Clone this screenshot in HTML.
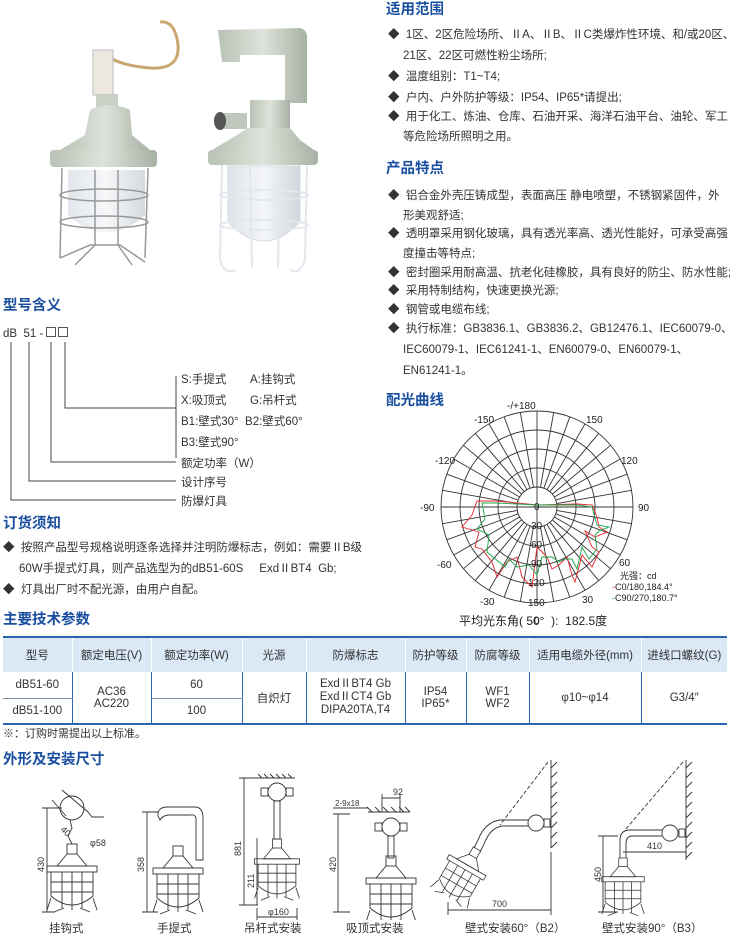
<!DOCTYPE html>
<html><head><meta charset="utf-8"><style>
body{margin:0;background:#fff;width:730px;height:939px;overflow:hidden;position:relative;font-family:"Liberation Sans","Noto Sans CJK SC",sans-serif;color:#333;}
.a{position:absolute;white-space:nowrap;font-size:11.5px;line-height:14px;}
.h{position:absolute;white-space:nowrap;font-size:14.5px;font-weight:bold;color:#1a4fa0;}
.d{font-size:12px;color:#222;}
table{position:absolute;left:3px;top:636px;width:724px;border-collapse:collapse;font-size:11.5px;text-align:center;}
td{padding:0;}
</style></head><body>

<svg style="position:absolute;left:0;top:0" width="370" height="290">
<defs>
<linearGradient id="g1" x1="0" x2="1"><stop offset="0" stop-color="#b9c2b6"/><stop offset=".5" stop-color="#dde3da"/><stop offset="1" stop-color="#a8b1a5"/></linearGradient>
<linearGradient id="g2" x1="0" x2="1"><stop offset="0" stop-color="#dfe4ea"/><stop offset=".5" stop-color="#f4f6f8"/><stop offset="1" stop-color="#d0d6dc"/></linearGradient>
</defs>
<path d="M160 22 Q175 20 178 45 Q180 70 150 68 Q125 66 110 58" fill="none" stroke="#c8a770" stroke-width="3"/>
<rect x="93" y="50" width="20" height="45" fill="#ece8e0" stroke="#bbb"/>
<rect x="96" y="94" width="22" height="14" fill="#c9d0c6"/>
<path d="M90 110 Q110 100 130 110 L132 135 L150 150 L60 150 L85 135 Z" fill="url(#g1)"/>
<rect x="50" y="150" width="107" height="17" rx="4" fill="url(#g1)"/>
<path d="M68 170 L145 170 L145 215 Q106 250 68 215 Z" fill="url(#g2)" opacity=".9"/>
<g stroke="#999" stroke-width="1.5" fill="none">
<line x1="62" y1="168" x2="60" y2="258"/><line x1="148" y1="168" x2="145" y2="258"/><line x1="95" y1="170" x2="95" y2="245"/><line x1="118" y1="170" x2="118" y2="245"/>
<ellipse cx="104" cy="195" rx="44" ry="6"/><ellipse cx="104" cy="222" rx="44" ry="6"/>
<path d="M60 258 L90 245 L120 245 L145 262"/><path d="M75 265 L95 245 M132 265 L118 245"/>
</g>
<path d="M218 30 L300 28 Q308 30 307 40 L307 103 L285 103 L285 55 L240 55 L240 62 L222 62 Z" fill="url(#g1)"/>
<rect x="250" y="100" width="40" height="30" fill="url(#g1)"/>
<rect x="217" y="113" width="30" height="16" fill="#c0c7bd"/>
<ellipse cx="220" cy="121" rx="6" ry="9" fill="#555"/>
<path d="M248 128 L290 128 L300 140 L314 150 L212 150 L232 138 Z" fill="url(#g1)"/>
<rect x="208" y="150" width="110" height="15" rx="4" fill="url(#g1)"/>
<path d="M228 166 L300 166 L300 222 Q264 260 228 222 Z" fill="url(#g2)" stroke="#d6dbe0"/>
<g stroke="#e4e7ee" stroke-width="2" fill="none">
<line x1="222" y1="165" x2="220" y2="260"/><line x1="307" y1="165" x2="305" y2="260"/><line x1="250" y1="168" x2="252" y2="268"/><line x1="280" y1="168" x2="278" y2="268"/>
<ellipse cx="264" cy="195" rx="44" ry="5"/><ellipse cx="264" cy="225" rx="44" ry="5"/>
<path d="M220 260 Q224 275 236 270 M305 260 Q300 275 290 270"/>
</g>
</svg>

<div class="h" style="left:386px;top:-2px">适用范围</div>
<div class="a" style="left:388px;top:28px">◆&nbsp; 1区、2区危险场所、ⅡA、ⅡB、ⅡC类爆炸性环境、和/或20区、</div>
<div class="a" style="left:403px;top:49px">21区、22区可燃性粉尘场所;</div>
<div class="a" style="left:388px;top:70px">◆&nbsp; 温度组别：T1~T4;</div>
<div class="a" style="left:388px;top:91px">◆&nbsp; 户内、户外防护等级：IP54、IP65*请提出;</div>
<div class="a" style="left:388px;top:110px">◆&nbsp; 用于化工、炼油、仓库、石油开采、海洋石油平台、油轮、军工</div>
<div class="a" style="left:403px;top:130px">等危险场所照明之用。</div>
<div class="h" style="left:386px;top:157px">产品特点</div>
<div class="a" style="left:388px;top:189px">◆&nbsp; 铝合金外壳压铸成型，表面高压 静电喷塑，不锈钢紧固件，外</div>
<div class="a" style="left:403px;top:209px">形美观舒适;</div>
<div class="a" style="left:388px;top:227px">◆&nbsp; 透明罩采用钢化玻璃，具有透光率高、透光性能好，可承受高强</div>
<div class="a" style="left:403px;top:247px">度撞击等特点;</div>
<div class="a" style="left:388px;top:266px">◆&nbsp; 密封圈采用耐高温、抗老化硅橡胶，具有良好的防尘、防水性能;</div>
<div class="a" style="left:388px;top:284px">◆&nbsp; 采用特制结构，快速更换光源;</div>
<div class="a" style="left:388px;top:303px">◆&nbsp; 钢管或电缆布线;</div>
<div class="a" style="left:388px;top:322px">◆&nbsp; 执行标准：GB3836.1、GB3836.2、GB12476.1、IEC60079-0、</div>
<div class="a" style="left:403px;top:343px">IEC60079-1、IEC61241-1、EN60079-0、EN60079-1、</div>
<div class="a" style="left:403px;top:364px">EN61241-1。</div>
<div class="h" style="left:386px;top:389px">配光曲线</div>

<svg style="position:absolute;left:420px;top:395px" width="310" height="240" font-family="Liberation Sans, sans-serif" font-size="10" fill="#222">
<g transform="translate(117,112)" stroke="#333" stroke-width="0.9" fill="none">
<circle r="96"/><circle r="77"/><circle r="58"/><circle r="39"/><circle r="20"/>
<line x1="-96" y1="0" x2="96" y2="0"/><line x1="0" y1="-96" x2="0" y2="96"/>
<g id="rl">
<line x1="20" y1="0" x2="96" y2="0" transform="rotate(10)"/><line x1="20" y1="0" x2="96" y2="0" transform="rotate(20)"/><line x1="20" y1="0" x2="96" y2="0" transform="rotate(30)"/><line x1="20" y1="0" x2="96" y2="0" transform="rotate(40)"/><line x1="20" y1="0" x2="96" y2="0" transform="rotate(50)"/><line x1="20" y1="0" x2="96" y2="0" transform="rotate(60)"/><line x1="20" y1="0" x2="96" y2="0" transform="rotate(70)"/><line x1="20" y1="0" x2="96" y2="0" transform="rotate(80)"/>
</g>
<use href="#rl" transform="rotate(90)"/><use href="#rl" transform="rotate(180)"/><use href="#rl" transform="rotate(270)"/>
<path stroke="#e8242a" d="M-60 -6 L-40 -6 L0 -2 L40 -3 L55 -2 L60 10 L62 20 L70 25 L58 30 L48 24 L55 40 L62 45 L55 60 L45 48 L38 75 L35 68 L30 50 L22 58 L15 62 L10 50 L0 40 L-5 80 L-15 70 L-20 50 L-30 55 L-40 70 L-45 55 L-55 42 L-62 40 L-58 25 L-75 20 L-65 8 Z"/>
<path stroke="#1aa84a" d="M-55 -4 L-40 -4 L0 -2 L40 -2 L55 0 L60 18 L72 20 L62 24 L58 28 L60 42 L52 52 L45 40 L40 62 L35 52 L28 52 L22 55 L15 50 L5 50 L0 68 L-8 58 L-20 60 L-28 52 L-32 60 L-38 55 L-50 45 L-48 28 L-60 22 L-52 12 Z"/>
</g>
<text x="87" y="14">-/+180</text>
<text x="54" y="28">-150</text><text x="166" y="28">150</text>
<text x="15" y="69">-120</text><text x="201" y="69">120</text>
<text x="0" y="116">-90</text><text x="218" y="116">90</text>
<text x="17" y="173">-60</text><text x="199" y="171">60</text>
<text x="60" y="210">-30</text><text x="162" y="208">30</text>
<text x="114" y="115">0</text><text x="111" y="134">30</text><text x="111" y="153">60</text><text x="111" y="172">90</text><text x="108" y="191">120</text><text x="108" y="211">150</text><text x="114" y="229">0</text>
<text x="200" y="184" font-size="9">光强：cd</text>
<text x="192" y="195" font-size="9"><tspan fill="#e8242a">-</tspan>C0/180,184.4°</text>
<text x="192" y="206" font-size="9"><tspan fill="#1aa84a">-</tspan>C90/270,180.7°</text>
</svg>
<div class="a d" style="left:459px;top:614px">平均光东角( 50°&nbsp; ):&nbsp; 182.5度</div>

<div class="h" style="left:3px;top:294px">型号含义</div>
<div class="a" style="left:3px;top:327px">dB&nbsp; 51 -<span style="display:inline-block;width:8px;height:8px;border:1px solid #555;margin:0 2px 0 3px"></span><span style="display:inline-block;width:8px;height:8px;border:1px solid #555"></span></div>
<svg style="position:absolute;left:0;top:340px" width="200" height="170" stroke="#444" stroke-width="1" fill="none">
<path d="M11 2 V160 H176"/><path d="M29 2 V141 H176"/><path d="M51 2 V122 H176"/><path d="M65 2 V68 H176"/>
<path d="M176 36 V118"/>
</svg>
<div class="a" style="left:181px;top:373px">S:手提式</div><div class="a" style="left:250px;top:373px">A:挂钩式</div>
<div class="a" style="left:181px;top:394px">X:吸顶式</div><div class="a" style="left:250px;top:394px">G:吊杆式</div>
<div class="a" style="left:181px;top:415px">B1:壁式30°&nbsp; B2:壁式60°</div>
<div class="a" style="left:181px;top:436px">B3:壁式90°</div>
<div class="a" style="left:181px;top:457px">额定功率（W）</div>
<div class="a" style="left:181px;top:476px">设计序号</div>
<div class="a" style="left:181px;top:495px">防爆灯具</div>
<div class="h" style="left:3px;top:512px">订货须知</div>
<div class="a" style="left:3px;top:541px">◆&nbsp; 按照产品型号规格说明逐条选择并注明防爆标志，例如：需要ⅡB级</div>
<div class="a" style="left:19px;top:562px">60W手提式灯具，则产品选型为的dB51-60S&nbsp;&nbsp;&nbsp;&nbsp; ExdⅡBT4&nbsp; Gb;</div>
<div class="a" style="left:3px;top:583px">◆&nbsp; 灯具出厂时不配光源，由用户自配。</div>

<div class="h" style="left:3px;top:608px">主要技术参数</div>
<table>
<colgroup><col style="width:69px"><col style="width:79px"><col style="width:91px"><col style="width:64px"><col style="width:99px"><col style="width:61px"><col style="width:63px"><col style="width:112px"><col></colgroup>
<tr style="height:35px;background:#dbe8f6;border-top:2px solid #2c64b0">
<td style="border-right:1px solid #fff">型号</td><td style="border-right:1px solid #fff">额定电压(V)</td><td style="border-right:1px solid #fff">额定功率(W)</td><td style="border-right:1px solid #fff">光源</td><td style="border-right:1px solid #fff">防爆标志</td><td style="border-right:1px solid #fff">防护等级</td><td style="border-right:1px solid #fff">防腐等级</td><td style="border-right:1px solid #fff">适用电缆外径(mm)</td><td>进线口螺纹(G)</td></tr>
<tr style="height:26px"><td style="border-right:1px solid #2c64b0;border-bottom:1px solid #7d8fa8">dB51-60</td><td rowspan="2" style="border-right:1px solid #2c64b0">AC36<br>AC220</td><td style="border-right:1px solid #2c64b0;border-bottom:1px solid #7d8fa8">60</td><td rowspan="2" style="border-right:1px solid #2c64b0">自炽灯</td><td rowspan="2" style="border-right:1px solid #2c64b0;line-height:13px">ExdⅡBT4 Gb<br>ExdⅡCT4 Gb<br>DIPA20TA,T4</td><td rowspan="2" style="border-right:1px solid #2c64b0">IP54<br>IP65*</td><td rowspan="2" style="border-right:1px solid #2c64b0">WF1<br>WF2</td><td rowspan="2" style="border-right:1px solid #2c64b0">φ10~φ14</td><td rowspan="2">G3/4″</td></tr>
<tr style="height:26px;border-bottom:2px solid #2c64b0"><td style="border-right:1px solid #2c64b0">dB51-100</td><td style="border-right:1px solid #2c64b0">100</td></tr>
</table>
<div class="a" style="left:3px;top:727px;font-size:11px">※：订购时需提出以上标准。</div>

<div class="h" style="left:3px;top:748px">外形及安装尺寸</div>
<svg style="position:absolute;left:0;top:760px" width="730" height="160" stroke="#333" stroke-width="0.9" fill="none" font-family="Liberation Sans, sans-serif" font-size="9">
<defs>
<g id="lamp">
<rect x="-5" y="0" width="10" height="10"/>
<path d="M-5 10 L-15 22 L15 22 L5 10"/>
<rect x="-25" y="22" width="50" height="6"/>
<path d="M-21 28 V52 Q0 70 21 52 V28"/>
<path d="M-10 28 V64 M0 28 V66 M10 28 V64 M-21 38 H21 M-21 48 H21"/>
<path d="M-21 54 L-25 66 M21 54 L25 66 M-8 64 L-18 68 M8 64 L18 68"/>
</g>
</defs>
<!-- 1 hook -->
<circle cx="72" cy="48" r="12"/><path d="M70 60 L72 68 L68 76 L72 84"/>
<use href="#lamp" x="72" y="84"/>
<path d="M47 48 V152 M42 48 H62 M42 152 H55"/><path d="M52 40 L66 56 M62 30 L88 52 L92 57 H104"/>
<g stroke="none" fill="#333"><text x="44" y="112" transform="rotate(-90 44 112)">430</text><text x="60" y="70" transform="rotate(45 60 70)">40</text><text x="90" y="86">φ58</text></g>
<!-- 2 handheld -->
<path d="M158 56 Q157 48 166 47 H196 Q203 48 203 58 V100 H196 V58 Q195 54 190 55 H168 Q162 56 160 60 Z"/>
<use href="#lamp" x="178" y="86"/>
<path d="M147 52 V152 M142 52 H158 M142 152 H158"/>
<g stroke="none" fill="#333"><text x="144" y="112" transform="rotate(-90 144 112)">358</text></g>
<!-- 3 pendant -->
<path d="M258 18 H295"/><path d="M262 18 l-4 -4 M268 18 l-4 -4 M274 18 l-4 -4 M280 18 l-4 -4 M286 18 l-4 -4 M292 18 l-4 -4"/>
<circle cx="277" cy="32" r="9"/><rect x="261" y="28" width="7" height="8"/><rect x="286" y="28" width="7" height="8"/>
<rect x="274" y="41" width="6" height="38"/>
<use href="#lamp" transform="translate(277,79) scale(0.9)"/>
<path d="M244 18 V145 M239 18 H258 M239 145 H258 M257 78 V145 M257 148 V160 M297 148 V160 M257 157 H297"/>
<g stroke="none" fill="#333"><text x="241" y="96" transform="rotate(-90 241 96)">881</text><text x="254" y="128" transform="rotate(-90 254 128)">211</text><text x="268" y="155">φ160</text></g>
<!-- 4 ceiling -->
<path d="M368 52 H410"/><path d="M372 52 l-5 -5 M380 52 l-5 -5 M388 52 l-5 -5 M396 52 l-5 -5 M404 52 l-5 -5 M410 52 l-5 -5"/>
<path d="M382 38 H400 M382 34 V52 M400 34 V52 M333 48 H368"/>
<circle cx="391" cy="67" r="9"/><rect x="375" y="63" width="7" height="8"/><rect x="400" y="63" width="7" height="8"/>
<rect x="388" y="76" width="6" height="22"/>
<use href="#lamp" x="391" y="96"/>
<path d="M338 54 V152 M333 54 H350 M333 152 H350"/>
<g stroke="none" fill="#333"><text x="393" y="35">92</text><text x="335" y="46" font-size="8">2-9x18</text><text x="336" y="112" transform="rotate(-90 336 112)">420</text></g>
<!-- 5 wall 60 -->
<path d="M551 0 V88"/><path d="M551 8 l6 -6 M551 18 l6 -6 M551 28 l6 -6 M551 38 l6 -6 M551 48 l6 -6 M551 58 l6 -6 M551 68 l6 -6 M551 78 l6 -6 M551 88 l6 -6"/>
<path d="M548 2 L500 65" stroke-dasharray="4 2"/>
<circle cx="536" cy="63" r="8"/><rect x="544" y="59" width="6" height="8"/>
<path d="M528 60 H500 Q485 62 478 80 L474 88 M528 66 H502 Q490 68 484 84 L480 92"/>
<use href="#lamp" transform="translate(477,89) rotate(30) scale(0.85)"/>
<path d="M448 150 H551 M448 142 V155 M551 92 V155"/>
<g stroke="none" fill="#333"><text x="492" y="147">700</text></g>
<!-- 6 wall 90 -->
<path d="M686 0 V100"/><path d="M686 8 l6 -6 M686 18 l6 -6 M686 28 l6 -6 M686 38 l6 -6 M686 48 l6 -6 M686 58 l6 -6 M686 68 l6 -6 M686 78 l6 -6 M686 88 l6 -6 M686 98 l6 -6"/>
<path d="M683 2 L625 70" stroke-dasharray="4 2"/>
<circle cx="670" cy="73" r="8"/><rect x="679" y="69" width="6" height="8"/>
<path d="M662 70 H630 Q620 70 620 80 V98 M662 76 H632 Q626 76 626 84 V98"/>
<use href="#lamp" transform="translate(623,98) scale(0.85)"/>
<path d="M623 92 H686 M603 76 V152 M598 76 H618 M598 152 H618"/>
<g stroke="none" fill="#333"><text x="647" y="89">410</text><text x="601" y="122" transform="rotate(-90 601 122)">450</text></g>
</svg>
<div class="a" style="left:49px;top:922px">挂钩式</div>
<div class="a" style="left:157px;top:922px">手提式</div>
<div class="a" style="left:244px;top:922px">吊杆式安装</div>
<div class="a" style="left:346px;top:922px">吸顶式安装</div>
<div class="a" style="left:465px;top:922px">壁式安装60°（B2）</div>
<div class="a" style="left:602px;top:922px">壁式安装90°（B3）</div>
</body></html>
